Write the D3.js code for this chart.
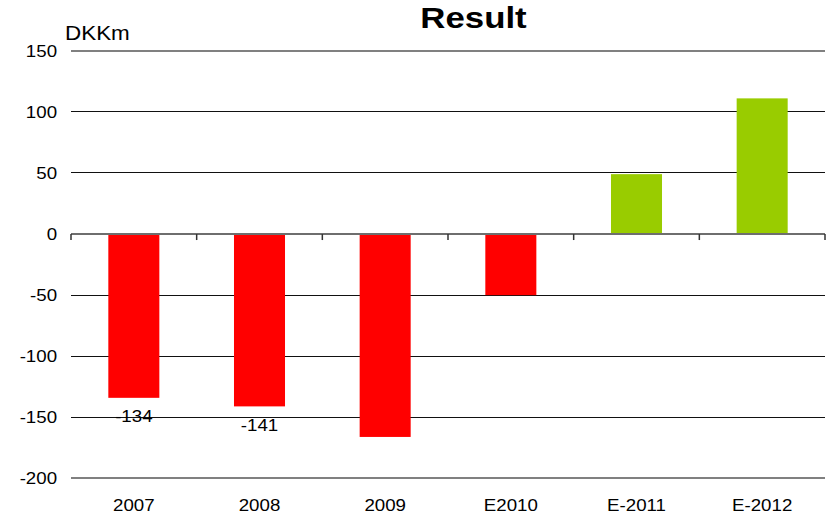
<!DOCTYPE html>
<html>
<head>
<meta charset="utf-8">
<script src="https://d3js.org/d3.v7.min.js"></script>
<style>
    body { margin: 0; background: #fff; }
    text { font-family: "Liberation Sans", Arial, sans-serif; }
</style>
</head>
<body>
<div id="chart1"></div>
<script>
    // chart values
    var categories = ["2007", "2008", "2009", "E2010", "E-2011", "E-2012"];
    var values = [-134, -141, -166, -50, 49, 111];
    var valueLabels = ["-134", "-141", "", "", "", ""];
    var yTicks = [-200, -150, -100, -50, 0, 50, 100, 150];

    var W = 826, H = 517;
    var margin = { top: 50.7, right: 1, bottom: 38.5, left: 71 },
        width = W - margin.left - margin.right,
        height = H - margin.top - margin.bottom;
    var stretch = 1.1; // the original text is a little wider than it is tall

    var svg = d3.select("#chart1").append("svg")
        .attr("width", W)
        .attr("height", H);

    var g = svg.append("g")
        .attr("transform", "translate(" + margin.left + "," + margin.top + ")");

    var x = d3.scaleBand().domain(categories).range([0, width])
        .paddingInner(0.594).paddingOuter(0.297);
    var xBand = d3.scaleBand().domain(categories).range([0, width]).padding(0);
    var y = d3.scaleLinear().domain([-200, 150]).range([height, 0]);

    // gridlines
    g.selectAll(".grid")
        .data(yTicks)
        .enter().append("line")
        .attr("class", "grid")
        .attr("x1", 0)
        .attr("x2", width)
        .attr("y1", function(d) { return y(d); })
        .attr("y2", function(d) { return y(d); })
        .attr("shape-rendering", "crispEdges")
        .attr("stroke", function(d) { return (d == 150 || d == -200) ? "#808080" : "#111"; })
        .attr("stroke-width", function(d) { return (d == 150 || d == -200) ? 2 : 1; });

    // y axis labels (plain hyphen minus like the original)
    g.append("g")
        .attr("class", "axis axis--y")
        .call(d3.axisLeft(y).tickValues(yTicks).tickSize(0).tickPadding(12.7)
            .tickFormat(function(d) { return String(d); }))
        .call(function(s) { s.select(".domain").remove(); })
        .selectAll("text")
        .style("font-size", "17px")
        .attr("fill", "#000")
        .attr("transform", "scale(" + stretch + ",1)");

    // bars
    g.selectAll(".bar")
        .data(values)
        .enter().append("rect")
        .attr("class", "bar")
        .attr("x", function(d, i) { return x(categories[i]); })
        .attr("width", x.bandwidth())
        .attr("y", function(d) { return y(Math.max(0, d)); })
        .attr("height", function(d) { return Math.abs(y(d) - y(0)); })
        .attr("fill", function(d) { return d < 0 ? "#ff0000" : "#99cc00"; });

    // zero axis with ticks at category boundaries
    var bounds = d3.range(categories.length + 1);
    var xb = d3.scaleLinear().domain([0, categories.length]).range([0, width]);
    g.append("line")
        .attr("x1", 0).attr("x2", width)
        .attr("y1", y(0)).attr("y2", y(0))
        .attr("stroke", "#6e6e6e")
        .attr("stroke-width", 2);
    g.selectAll(".ztick")
        .data(bounds)
        .enter().append("line")
        .attr("class", "ztick")
        .attr("x1", function(d) { return xb(d); })
        .attr("x2", function(d) { return xb(d); })
        .attr("y1", y(0))
        .attr("y2", y(0) + 6)
        .attr("stroke", "#333")
        .attr("stroke-width", 1.5);

    // category labels
    g.append("g")
        .attr("class", "axis axis--x")
        .attr("transform", "translate(0," + height + ")")
        .call(d3.axisBottom(xBand).tickSize(0).tickPadding(20.5))
        .call(function(s) { s.select(".domain").remove(); })
        .selectAll("text")
        .style("font-size", "17px")
        .attr("fill", "#000")
        .attr("transform", "scale(" + stretch + ",1)");

    // value labels
    g.selectAll(".vlabel")
        .data(values)
        .enter().append("text")
        .attr("class", "vlabel")
        .attr("transform", function(d, i) {
            return "translate(" + (x(categories[i]) + x.bandwidth() / 2) + "," + (y(d) + 24.5) + ") scale(" + stretch + ",1)";
        })
        .attr("text-anchor", "middle")
        .style("font-size", "17px")
        .text(function(d, i) { return valueLabels[i]; });

    // unit label
    svg.append("text")
        .attr("transform", "translate(65,40) scale(1.15,1)")
        .style("font-size", "19.5px")
        .text("DKKm");

    // title
    svg.append("text")
        .attr("transform", "translate(473.5,28) scale(1.2,1)")
        .attr("text-anchor", "middle")
        .style("font-size", "29px")
        .style("font-weight", "bold")
        .text("Result");
</script>
</body>
</html>
